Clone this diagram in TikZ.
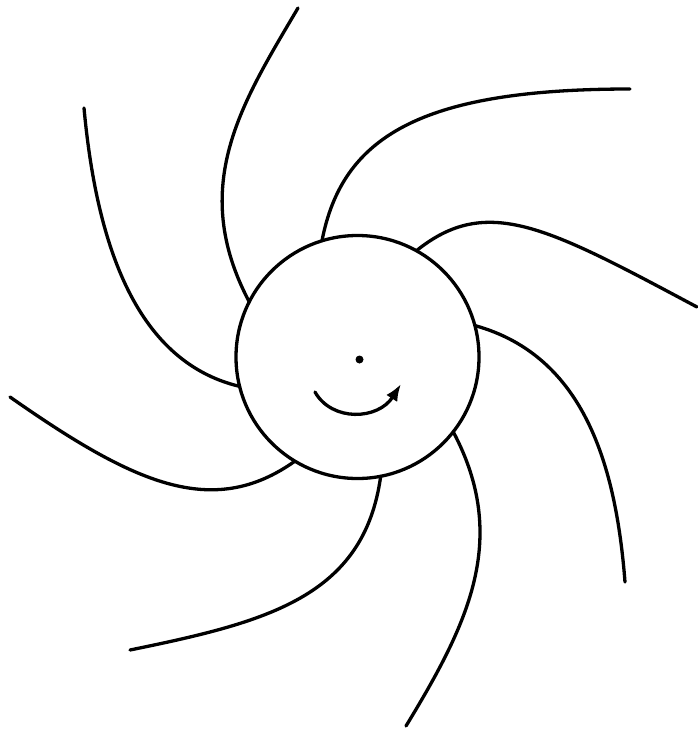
\documentclass[tikz,border=0pt]{standalone}
\usetikzlibrary{arrows.meta}
\begin{document}
\begin{tikzpicture}[x=1pt,y=-1pt,
  arm/.style={line width=3.3pt, line cap=round},
  disc/.style={circle, draw, line width=3.3pt, minimum size=243pt, inner sep=0pt, outer sep=0pt}]
\useasboundingbox (0,0) rectangle (697,731);
\node[disc] (sun) at (357.5,357) {};
\fill (359.5,359.5) circle (4pt);
\coordinate (as) at (315,392);
\coordinate (ae) at (401,384);
\draw[line width=3.3pt, line cap=round, -{Latex[length=17pt,width=13pt]}] (as) .. controls (332,422) and (378,420) .. (ae);
% arms
\coordinate (e1) at (298,8);
\coordinate (e2) at (84,108);
\coordinate (e3) at (10,397);
\coordinate (e4) at (130,650);
\coordinate (e5) at (406,726);
\coordinate (e6) at (625,582);
\coordinate (e7) at (697,307);
\coordinate (e8) at (630,89);
\draw[arm] (sun.153.3) .. controls (188,186) and (242,103) .. (e1);
\draw[arm] (sun.194.3) .. controls (133,361) and (96,238) .. (e2);
\draw[arm] (sun.239.9) .. controls (212,520) and (133,483) .. (e3);
\draw[arm] (sun.281.4) .. controls (364,597) and (267,622) .. (e4);
\draw[arm] (sun.322.4) .. controls (510,539) and (468,624) .. (e5);
\draw[arm] (sun.15.2) .. controls (585,356) and (616,467) .. (e6);
\draw[arm] (sun.61.8) .. controls (487,194) and (547,227) .. (e7);
\draw[arm] (sun.107.8) .. controls (342,137) and (420,89) .. (e8);
\end{tikzpicture}
\end{document}
